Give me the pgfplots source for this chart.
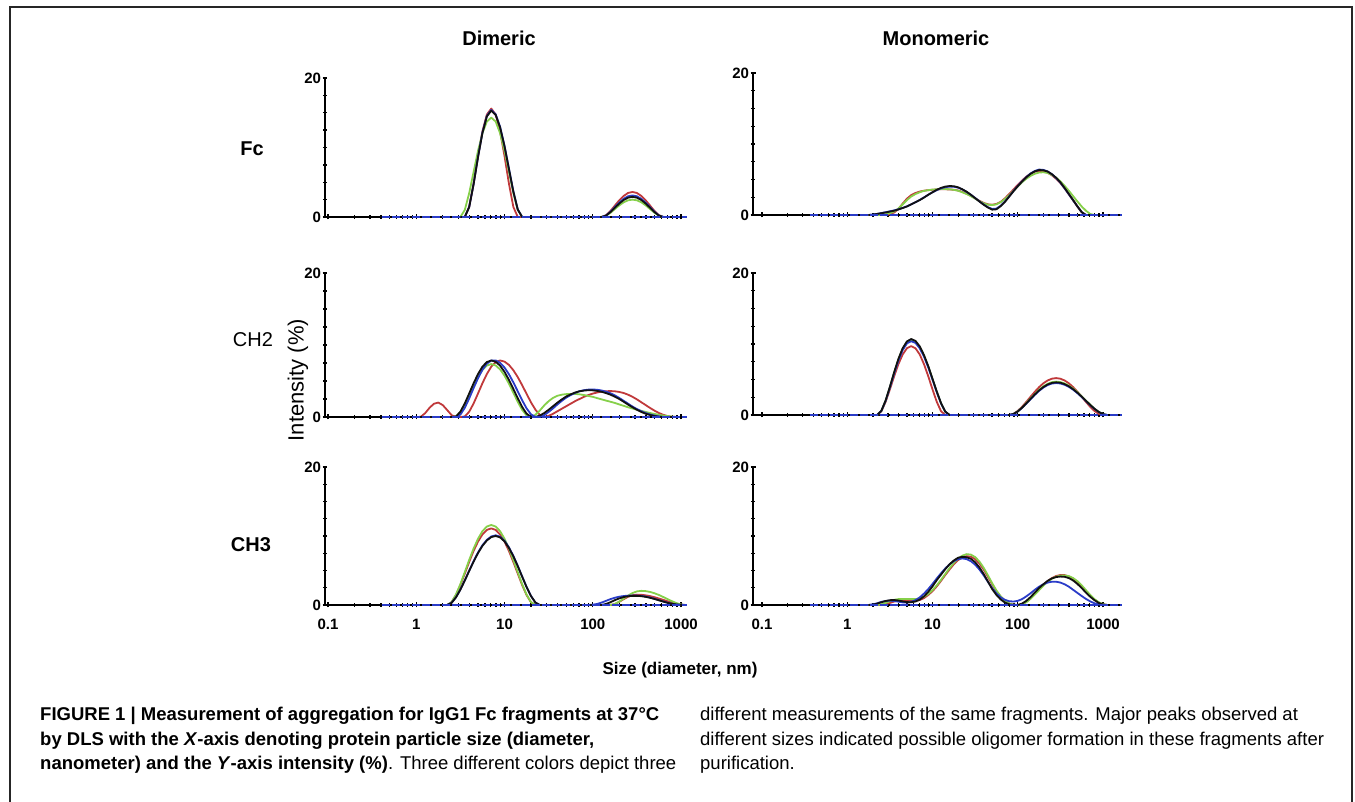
\documentclass[border=0pt]{standalone}
\usepackage{fontspec}
\setmainfont{Liberation Sans}
\usepackage{pgfplots}
\usepackage{pgfplotstable}
\pgfplotsset{compat=1.18}
\definecolor{dlsred}{HTML}{C0393B}
\definecolor{dlsgreen}{HTML}{86D04A}
\definecolor{dlsblue}{HTML}{2A3CC8}
\definecolor{dlsblack}{HTML}{111111}

% size (nm) vs intensity (%), columns: red green blue black
\pgfplotstableread{
x r g b k
3.162 0 0 0 0
3.548 0 1.01 0 0
3.981 1.46 3.43 1.44 1.43
4.467 4.82 6.49 4.76 4.73
5.012 8.78 9.52 8.66 8.61
5.623 12.32 12.05 12.17 12.09
6.310 14.74 13.73 14.55 14.46
7.079 15.6 14.3 15.4 15.3
7.943 14.74 13.73 14.78 14.69
8.913 12.32 12.05 12.98 12.90
10 8.78 9.52 10.26 10.19
11.22 4.82 6.49 6.99 6.94
12.59 1.46 3.43 3.70 3.67
14.13 0 1.01 1.08 1.08
15.85 0 0 0 0
125.9 0 0 0 0
141.3 0.25 0.18 0.22 0.20
158.5 0.86 0.60 0.74 0.70
177.8 1.63 1.13 1.41 1.32
199.5 2.40 1.67 2.06 1.93
223.9 3.03 2.11 2.61 2.44
251.2 3.46 2.40 2.98 2.78
281.8 3.6 2.5 3.1 2.9
316.2 3.46 2.40 2.98 2.78
354.8 3.03 2.11 2.61 2.44
398.1 2.40 1.67 2.06 1.93
446.7 1.63 1.13 1.41 1.32
501.2 0.86 0.60 0.74 0.70
562.3 0.25 0.18 0.22 0.20
631.0 0 0 0 0
}\dimfc

\pgfplotstableread{
x r g b k
1.778 0 0 0 0
1.995 0 0 0.05 0.05
2.239 0 0 0.15 0.15
2.512 0 0 0.28 0.25
2.818 0 0.1 0.4 0.35
3.162 0.1 0.25 0.52 0.48
3.548 0.35 0.5 0.65 0.6
3.981 0.85 0.9 0.8 0.78
4.467 1.6 1.5 1.0 0.98
5.012 2.3 2.1 1.22 1.2
5.623 2.8 2.6 1.5 1.5
6.310 3.1 2.95 1.8 1.8
7.079 3.3 3.2 2.12 2.1
7.943 3.42 3.4 2.48 2.45
8.913 3.5 3.5 2.85 2.85
10 3.55 3.58 3.2 3.2
11.22 3.6 3.62 3.5 3.55
12.59 3.62 3.65 3.75 3.82
14.13 3.62 3.65 3.92 4.0
15.85 3.6 3.62 4.0 4.08
17.78 3.55 3.55 3.98 4.05
19.95 3.45 3.42 3.85 3.9
22.39 3.25 3.2 3.6 3.62
25.12 3.0 2.95 3.25 3.28
28.18 2.7 2.65 2.85 2.85
31.62 2.35 2.3 2.4 2.38
35.48 2.0 1.95 1.92 1.9
39.81 1.7 1.65 1.48 1.45
44.67 1.5 1.45 1.1 1.05
50.12 1.45 1.4 0.85 0.75
56.23 1.55 1.5 0.9 0.8
63.10 1.85 1.8 1.3 1.25
70.79 2.35 2.25 1.9 1.85
79.43 2.95 2.8 2.62 2.6
89.13 3.6 3.4 3.38 3.35
100 4.25 4.0 4.1 4.05
112.2 4.85 4.6 4.75 4.7
125.9 5.4 5.1 5.35 5.3
141.3 5.8 5.5 5.85 5.8
158.5 6.1 5.8 6.2 6.15
177.8 6.2 5.98 6.4 6.33
199.5 6.15 6.02 6.35 6.3
223.9 5.95 5.92 6.15 6.12
251.2 5.6 5.65 5.75 5.75
281.8 5.1 5.25 5.2 5.25
316.2 4.5 4.75 4.55 4.6
354.8 3.75 4.1 3.75 3.8
398.1 2.9 3.4 2.9 2.95
446.7 2.05 2.65 2.05 2.1
501.2 1.2 1.9 1.2 1.2
562.3 0.4 1.2 0.4 0.4
631.0 0 0.6 0 0
707.9 0 0.15 0 0
794.3 0 0 0 0
}\monfc

\pgfplotstableread{
x r g b k
1.000 0 0 0 0
1.122 0.02 0 0 0
1.259 0.52 0 0 0
1.413 1.27 0 0 0
1.585 1.84 0 0 0
1.778 2.0 0 0 0
1.995 1.66 0 0 0
2.239 0.97 0 0 0
2.512 0.26 0 0 0
2.818 0 0.06 0 0.07
3.162 0 0.69 0.33 0.73
3.548 0.07 1.76 1.27 1.88
3.981 0.73 3.06 2.58 3.27
4.467 1.88 4.40 4.02 4.69
5.012 3.27 5.59 5.39 5.97
5.623 4.69 6.54 6.56 6.99
6.310 5.97 7.14 7.41 7.63
7.079 6.99 7.35 7.84 7.85
7.943 7.63 7.16 7.86 7.67
8.913 7.85 6.61 7.52 7.13
10 7.69 5.74 6.87 6.27
11.22 7.24 4.63 5.94 5.16
12.59 6.50 3.37 4.81 3.90
14.13 5.54 2.10 3.57 2.60
15.85 4.42 0.99 2.32 1.39
17.78 3.22 0.22 1.20 0.47
19.95 2.04 0 0.37 0
22.39 1.02 0.3 0 0
25.12 0.28 0.9 0 0.2
28.18 0 1.6 0.25 0.55
31.62 0.15 2.2 0.7 1.0
35.48 0.45 2.65 1.2 1.5
39.81 0.8 2.95 1.75 2.0
44.67 1.15 3.1 2.25 2.45
50.12 1.5 3.18 2.7 2.85
56.23 1.85 3.2 3.05 3.15
63.10 2.2 3.2 3.35 3.4
70.79 2.5 3.15 3.58 3.57
79.43 2.8 3.05 3.72 3.67
89.13 3.05 2.92 3.8 3.72
100 3.25 2.8 3.82 3.7
112.2 3.4 2.62 3.78 3.62
125.9 3.52 2.45 3.68 3.5
141.3 3.58 2.28 3.52 3.32
158.5 3.6 2.12 3.3 3.1
177.8 3.57 1.95 3.0 2.82
199.5 3.48 1.75 2.65 2.5
223.9 3.33 1.55 2.25 2.12
251.2 3.1 1.35 1.85 1.72
281.8 2.8 1.18 1.45 1.35
316.2 2.45 1.02 1.1 1.0
354.8 2.05 0.85 0.8 0.7
398.1 1.65 0.7 0.55 0.45
446.7 1.25 0.55 0.35 0.27
501.2 0.88 0.42 0.2 0.13
562.3 0.55 0.3 0.08 0.04
631.0 0.3 0.2 0 0
707.9 0.12 0.12 0 0
794.3 0.03 0.05 0 0
891.3 0 0 0 0
}\dimch

\pgfplotstableread{
x r g b k
2.239 0 0 0 0
2.512 0.53 0.58 0.57 0.59
2.818 1.85 2.02 1.99 2.04
3.162 3.60 3.93 3.86 3.97
3.548 5.46 5.96 5.85 6.02
3.981 7.16 7.83 7.68 7.90
4.467 8.53 9.32 9.14 9.41
5.012 9.40 10.27 10.08 10.37
5.623 9.7 10.6 10.4 10.7
6.310 9.40 10.34 10.15 10.44
7.079 8.53 9.58 9.40 9.67
7.943 7.16 8.37 8.22 8.45
8.913 5.46 6.83 6.70 6.89
10 3.60 5.07 4.97 5.11
11.22 1.85 3.28 3.21 3.31
12.59 0.53 1.65 1.62 1.67
14.13 0 0.47 0.46 0.47
15.85 0 0 0 0
79.43 0 0 0 0
89.13 0.16 0.14 0.14 0.14
100 0.57 0.51 0.49 0.50
112.2 1.15 1.04 1.00 1.02
125.9 1.84 1.66 1.59 1.63
141.3 2.57 2.32 2.22 2.27
158.5 3.27 2.96 2.83 2.90
177.8 3.92 3.54 3.39 3.46
199.5 4.46 4.03 3.86 3.94
223.9 4.86 4.39 4.21 4.30
251.2 5.11 4.62 4.43 4.52
281.8 5.2 4.7 4.5 4.6
316.2 5.11 4.63 4.44 4.54
354.8 4.86 4.44 4.25 4.35
398.1 4.46 4.13 3.96 4.04
446.7 3.92 3.71 3.56 3.63
501.2 3.27 3.21 3.07 3.14
562.3 2.57 2.64 2.53 2.59
631.0 1.84 2.04 1.96 2.00
707.9 1.15 1.45 1.39 1.42
794.3 0.57 0.90 0.86 0.88
891.3 0.16 0.44 0.42 0.43
1000 0 0.12 0.11 0.12
1122 0 0 0 0
}\monch

\pgfplotstableread{
x r g b k
1.995 0 0 0 0
2.239 0 0 0 0
2.512 0.40 0.42 0.31 0.30
2.818 1.44 1.51 1.11 1.10
3.162 2.89 3.02 2.24 2.22
3.548 4.55 4.76 3.58 3.54
3.981 6.24 6.53 4.98 4.94
4.467 7.84 8.19 6.36 6.30
5.012 9.19 9.60 7.61 7.53
5.623 10.23 10.70 8.66 8.57
6.310 10.88 11.37 9.44 9.35
7.079 11.1 11.6 9.93 9.84
7.943 10.88 11.37 10.1 10.0
8.913 10.23 10.70 9.90 9.80
10 9.19 9.60 9.31 9.22
11.22 7.84 8.19 8.36 8.28
12.59 6.24 6.53 7.13 7.06
14.13 4.55 4.76 5.68 5.63
15.85 2.89 3.02 4.14 4.10
17.78 1.44 1.51 2.63 2.60
19.95 0.40 0.42 1.31 1.30
22.39 0 0 0.36 0.36
25.12 0 0 0 0
89.13 0 0 0 0
100 0 0 0.05 0
112.2 0 0 0.15 0
125.9 0 0 0.35 0
141.3 0 0 0.6 0.15
158.5 0 0 0.85 0.4
177.8 0.14 0.14 1.05 0.7
199.5 0.46 0.49 1.2 0.95
223.9 0.84 0.93 1.3 1.15
251.2 1.19 1.37 1.35 1.27
281.8 1.42 1.73 1.38 1.32
316.2 1.5 1.97 1.37 1.32
354.8 1.48 2.05 1.32 1.28
398.1 1.40 2.01 1.22 1.18
446.7 1.29 1.89 1.08 1.04
501.2 1.13 1.70 0.9 0.87
562.3 0.94 1.45 0.7 0.68
631.0 0.74 1.15 0.5 0.49
707.9 0.53 0.84 0.32 0.31
794.3 0.33 0.53 0.17 0.17
891.3 0.16 0.27 0.07 0.07
1000 0.05 0.07 0.02 0.02
1122 0 0 0 0
}\dimcht

\pgfplotstableread{
x r g b k
1.778 0 0 0 0
1.995 0 0 0.08 0.05
2.239 0 0 0.25 0.2
2.512 0 0.1 0.45 0.4
2.818 0.1 0.3 0.58 0.58
3.162 0.3 0.55 0.62 0.7
3.548 0.5 0.75 0.58 0.72
3.981 0.65 0.85 0.48 0.65
4.467 0.72 0.88 0.38 0.52
5.012 0.7 0.88 0.35 0.42
5.623 0.62 0.85 0.45 0.4
6.310 0.6 0.85 0.7 0.5
7.079 0.72 0.95 1.1 0.78
7.943 1.0 1.2 1.65 1.25
8.913 1.45 1.6 2.3 1.9
10 2.0 2.15 3.05 2.7
11.22 2.7 2.85 3.85 3.6
12.59 3.5 3.65 4.6 4.4
14.13 4.35 4.5 5.3 5.2
15.85 5.15 5.35 5.9 5.9
17.78 5.9 6.1 6.35 6.45
19.95 6.5 6.75 6.65 6.85
22.39 6.9 7.15 6.75 6.98
25.12 7.08 7.37 6.65 6.92
28.18 7.0 7.3 6.35 6.7
31.62 6.65 6.95 5.85 6.2
35.48 6.0 6.3 5.15 5.45
39.81 5.15 5.4 4.3 4.5
44.67 4.1 4.3 3.35 3.4
50.12 3.0 3.15 2.45 2.3
56.23 2.0 2.1 1.7 1.45
63.10 1.2 1.25 1.1 0.8
70.79 0.6 0.6 0.75 0.35
79.43 0.22 0.2 0.55 0.1
89.13 0.04 0.03 0.5 0
100 0 0 0.6 0
112.2 0.12 0.1 0.85 0.2
125.9 0.45 0.4 1.25 0.6
141.3 0.95 0.9 1.7 1.15
158.5 1.6 1.5 2.2 1.8
177.8 2.25 2.15 2.65 2.45
199.5 2.9 2.8 3.0 3.0
223.9 3.45 3.35 3.25 3.5
251.2 3.9 3.8 3.37 3.85
281.8 4.2 4.1 3.37 4.05
316.2 4.35 4.25 3.25 4.12
354.8 4.33 4.28 3.0 4.08
398.1 4.15 4.18 2.65 3.9
446.7 3.8 3.9 2.2 3.55
501.2 3.3 3.45 1.75 3.05
562.3 2.65 2.85 1.3 2.45
631.0 1.95 2.15 0.88 1.8
707.9 1.3 1.45 0.52 1.2
794.3 0.75 0.85 0.25 0.7
891.3 0.35 0.4 0.08 0.3
1000 0.1 0.12 0 0.08
1122 0 0 0 0
}\monchth

\pgfplotsset{
  dls/.style={
    scale only axis, ymin=0, ymax=20, clip=false,
    axis x line*=bottom, axis y line*=left,
    axis line style={line width=2.2pt, black},
    xtick={0.1,1,10,100,1000}, xticklabels={},
    ytick={0,20}, yticklabels={0,20},
    minor ytick={2.5,5,7.5,10,12.5,15,17.5},
    tick align=center, major tick length=5pt, minor tick length=4pt,
    tick style={line width=1.3pt, black},
    every tick label/.append style={font=\bfseries\fontsize{15}{18}\selectfont},
    yticklabel style={xshift=2pt},
    xticklabel style={yshift=-8pt},
    every axis plot/.append style={line width=1.8pt, line join=round, mark=none},
  },
  dlsleft/.style={dls, width=362pt, xmin=0.0925, xmax=1169},
  dlsright/.style={dls, width=369pt, xmin=0.0784, xmax=1671},
  lastrow/.style={xticklabels={0.1,1,10,100,1000}},
}

\newcommand{\fourcurves}[1]{%
  \addplot[dlsred] table[x=x,y=r]{#1};
  \addplot[dlsgreen] table[x=x,y=g]{#1};
  \addplot[dlsblue] table[x=x,y=b]{#1};
  \addplot[dlsblack] table[x=x,y=k]{#1};
}

\begin{document}
\begin{tikzpicture}[x=1pt,y=1pt]
\path[use as bounding box] (0,0) rectangle (1355,802);
\draw[line width=2pt, black!85] (9.5,0) -- (9.5,795) -- (1352,795) -- (1352,0);

% Dimeric column
\begin{semilogxaxis}[dlsleft, height=139pt, at={(325pt,585pt)}, anchor=south west]
\fourcurves{\dimfc}
\addplot[dlsblue, dash pattern=on 8pt off 2pt] coordinates {(0.41,0) (1169,0)};
\end{semilogxaxis}
\begin{semilogxaxis}[dlsleft, height=144pt, at={(325pt,385pt)}, anchor=south west]
\fourcurves{\dimch}
\addplot[dlsblue, dash pattern=on 8pt off 2pt] coordinates {(0.41,0) (1169,0)};
\end{semilogxaxis}
\begin{semilogxaxis}[dlsleft, lastrow, height=138pt, at={(325pt,197pt)}, anchor=south west]
\fourcurves{\dimcht}
\addplot[dlsblue, dash pattern=on 8pt off 2pt] coordinates {(0.41,0) (1169,0)};
\end{semilogxaxis}

% Monomeric column
\begin{semilogxaxis}[dlsright, height=142pt, at={(753pt,587pt)}, anchor=south west]
\fourcurves{\monfc}
\addplot[dlsblue, dash pattern=on 8pt off 2pt] coordinates {(0.37,0) (1671,0)};
\end{semilogxaxis}
\begin{semilogxaxis}[dlsright, height=142pt, at={(753pt,387pt)}, anchor=south west]
\fourcurves{\monch}
\addplot[dlsblue, dash pattern=on 8pt off 2pt] coordinates {(0.37,0) (1671,0)};
\end{semilogxaxis}
\begin{semilogxaxis}[dlsright, lastrow, height=138pt, at={(753pt,197pt)}, anchor=south west]
\fourcurves{\monchth}
\addplot[dlsblue, dash pattern=on 8pt off 2pt] coordinates {(0.37,0) (1671,0)};
\end{semilogxaxis}

% titles and labels
\node[font=\bfseries\fontsize{20}{24}\selectfont] at (499,763.5) {Dimeric};
\node[font=\bfseries\fontsize{20}{24}\selectfont] at (936,763.5) {Monomeric};
\node[font=\bfseries\fontsize{20}{24}\selectfont] at (252,653) {Fc};
\node[font=\fontsize{20}{24}\selectfont] at (253,462) {CH2};
\node[font=\bfseries\fontsize{20}{24}\selectfont] at (251,257) {CH3};
\node[font=\fontsize{22}{26}\selectfont, rotate=90] at (298,422) {Intensity (\%)};
\node[font=\bfseries\fontsize{17}{20}\selectfont] at (680,132) {Size (diameter, nm)};

% caption
\begin{scope}[every node/.style={anchor=base west, inner sep=0pt, font=\fontsize{18.5}{24}\selectfont}]
\node at (40,81) {\bfseries FIGURE 1 | Measurement of aggregation for IgG1 Fc fragments at 37°C};
\node at (40,56.5) {\bfseries by DLS with the \textit{X}-axis denoting protein particle size (diameter,};
\node at (40,32) {{\bfseries nanometer) and the \textit{Y}-axis intensity (\%)}. Three different colors depict three};
\node at (700,81) {different measurements of the same fragments. Major peaks observed at};
\node at (700,56.5) {different sizes indicated possible oligomer formation in these fragments after};
\node at (700,32) {purification.};
\end{scope}
\end{tikzpicture}
\end{document}
